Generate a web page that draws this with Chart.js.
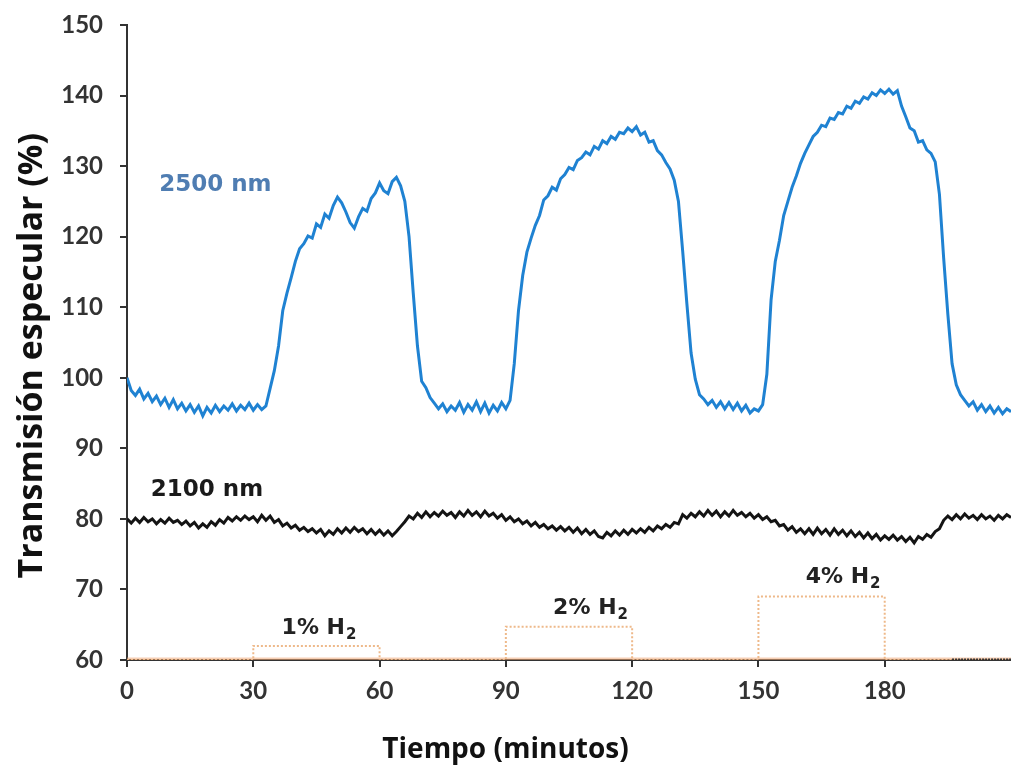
<!DOCTYPE html>
<html>
<head>
<meta charset="utf-8">
<script src="https://cdn.jsdelivr.net/npm/chart.js@4/dist/chart.umd.min.js"></script>
<style>
  html, body { margin: 0; padding: 0; background: #fff; }
</style>
</head>
<body>
<canvas id="chart" width="1011" height="779"></canvas>
<script>
// time axis, one reading per minute
var minutes = [];
for (var m = 0; m <= 210; m++) minutes.push(m);

// 2500 nm trace
var trans2500 = [
  100.0, 98.2, 97.5, 98.4, 97.0, 97.8, 96.6, 97.4, 96.2, 97.1,
  95.8, 96.9, 95.6, 96.4, 95.3, 96.2, 95.1, 96.0, 94.6, 95.8,
  95.0, 96.1, 95.2, 96.0, 95.4, 96.3, 95.3, 96.1, 95.5, 96.4,
  95.4, 96.2, 95.5, 96.0, 98.5, 101.0, 104.5, 109.5, 112.0, 114.2,
  116.5, 118.3, 119.0, 120.1, 119.8, 121.8, 121.3, 123.2, 122.6, 124.4,
  125.6, 124.8, 123.5, 122.0, 121.2, 122.8, 124.0, 123.6, 125.4, 126.2,
  127.6, 126.5, 126.1, 127.8, 128.4, 127.2, 125.0, 120.0, 112.0, 104.5,
  99.5, 98.6, 97.2, 96.4, 95.6, 96.3, 95.2, 96.0, 95.4, 96.5,
  95.1, 96.2, 95.4, 96.6, 95.2, 96.4, 95.0, 96.1, 95.3, 96.5,
  95.6, 96.8, 102.0, 109.5, 114.5, 117.8, 119.8, 121.6, 123.0, 125.2,
  125.8, 127.0, 126.6, 128.2, 128.8, 129.8, 129.5, 130.8, 131.2, 132.0,
  131.6, 132.8, 132.4, 133.6, 133.2, 134.2, 133.8, 134.8, 134.6, 135.4,
  134.9, 135.6, 134.4, 134.8, 133.4, 133.6, 132.2, 131.6, 130.5, 129.6,
  128.0, 125.0, 118.0, 110.5, 103.5, 99.8, 97.6, 97.0, 96.2, 96.8,
  95.8, 96.6, 95.6, 96.5, 95.5, 96.4, 95.3, 96.1, 95.0, 95.6,
  95.3, 96.2, 100.5, 111.0, 116.5, 119.5, 123.0, 125.0, 127.0, 128.6,
  130.4, 131.8, 133.0, 134.2, 134.8, 135.8, 135.6, 136.8, 136.6, 137.6,
  137.4, 138.5, 138.2, 139.2, 138.9, 139.8, 139.5, 140.4, 140.0, 140.8,
  140.3, 140.9, 140.2, 140.7, 138.5, 137.0, 135.4, 135.0, 133.4, 133.6,
  132.3, 131.8, 130.6, 126.0, 117.0, 109.0, 102.0, 99.0, 97.6, 96.8,
  96.0, 96.6, 95.4, 96.2, 95.2, 96.0, 95.0, 95.8, 94.9, 95.6,
  95.2
];

// 2100 nm trace
var trans2100 = [
  80.0, 79.4, 80.1, 79.5, 80.2, 79.6, 80.0, 79.3, 79.9, 79.4,
  80.1, 79.5, 79.8, 79.2, 79.7, 79.0, 79.5, 78.7, 79.3, 78.8,
  79.6, 79.1, 79.9, 79.4, 80.2, 79.7, 80.3, 79.8, 80.4, 79.9,
  80.3, 79.6, 80.5, 79.8, 80.4, 79.5, 79.9, 79.0, 79.4, 78.7,
  79.1, 78.4, 78.8, 78.2, 78.6, 78.0, 78.5, 77.6, 78.3, 77.8,
  78.6, 78.0, 78.7, 78.1, 78.8, 78.2, 78.6, 77.9, 78.5, 77.8,
  78.4, 77.7, 78.3, 77.6, 78.2, 78.9, 79.6, 80.4, 80.0, 80.8,
  80.2, 81.0, 80.3, 80.9, 80.4, 81.1, 80.5, 80.9, 80.2, 81.0,
  80.4, 81.2, 80.5, 81.0, 80.3, 81.1, 80.4, 80.8, 80.1, 80.6,
  79.8, 80.3, 79.6, 80.0, 79.3, 79.7, 79.0, 79.5, 78.8, 79.2,
  78.6, 79.0, 78.4, 78.9, 78.3, 78.8, 78.1, 78.7, 77.9, 78.5,
  77.8, 78.3, 77.5, 77.3, 78.1, 77.6, 78.3, 77.7, 78.4, 77.8,
  78.5, 78.0, 78.6, 78.1, 78.8, 78.3, 79.0, 78.6, 79.2, 78.8,
  79.5, 79.3, 80.6, 80.1, 80.8, 80.3, 81.0, 80.4, 81.2, 80.5,
  81.1, 80.3, 81.0, 80.4, 81.2, 80.5, 80.9, 80.3, 80.8, 80.1,
  80.6, 79.9, 80.3, 79.6, 79.8, 79.0, 79.2, 78.4, 78.9, 78.1,
  78.6, 77.9, 78.6, 77.8, 78.7, 77.9, 78.5, 77.7, 78.6, 77.8,
  78.4, 77.6, 78.3, 77.5, 78.1, 77.3, 78.0, 77.2, 77.8, 77.0,
  77.6, 77.1, 77.7, 77.0, 77.5, 76.8, 77.4, 76.6, 77.5, 77.1,
  77.8, 77.4, 78.2, 78.6, 79.8, 80.4, 79.9, 80.6, 80.0, 80.7,
  80.1, 80.5, 79.9, 80.6, 80.0, 80.4, 79.8, 80.5, 80.0, 80.6,
  80.2
];

// H2 pulses (time, level)
var pulseTime  = [0, 30, 30, 60, 60, 90, 90, 120, 120, 150, 150, 180, 180, 210];
var pulseLevel = [60, 60, 62, 62, 60, 60, 64.7, 64.7, 60, 60, 69, 69, 60, 60];
var pulseNames = ['1% H\u2082', '2% H\u2082', '4% H\u2082'];
var pulseLabelTime  = [45.5, 110, 170];
var pulseLabelLevel = [64.5, 67.4, 71.7];

// short dark dotted piece at the end of the baseline
var tailTime  = [196, 210];
var tailLevel = [60, 60];

var xTicks = [0, 30, 60, 90, 120, 150, 180];

function pts(xs, ys) {
  return xs.map(function (x, i) { return { x: x, y: ys[i] }; });
}

// series labels written inside the plot + x title centred on the page
const seriesLabels = {
  id: 'seriesLabels',
  afterDatasetsDraw(chart) {
    const c = chart.ctx, xs = chart.scales.x, ys = chart.scales.y;
    c.save();
    c.textAlign = 'center';
    c.textBaseline = 'middle';
    c.font = 'bold 23px "DejaVu Sans"';
    c.fillStyle = '#4f7db2';
    c.fillText('2500 nm', xs.getPixelForValue(21), ys.getPixelForValue(127.3));
    c.fillStyle = '#1a1a1a';
    c.fillText('2100 nm', xs.getPixelForValue(19), ys.getPixelForValue(84.1));
    pulseNames.forEach(function (name, i) {
      var x = xs.getPixelForValue(pulseLabelTime[i]);
      var y = ys.getPixelForValue(pulseLabelLevel[i]);
      var base = name.slice(0, -1);
      c.font = 'bold 22px "DejaVu Sans"';
      var w = c.measureText(base).width;
      c.font = 'bold 15px "DejaVu Sans"';
      var ws = c.measureText('2').width;
      var x0 = x - (w + ws) / 2;
      c.textAlign = 'left';
      c.font = 'bold 22px "DejaVu Sans"';
      c.fillStyle = '#222';
      c.fillText(base, x0, y);
      c.font = 'bold 15px "DejaVu Sans"';
      c.fillText('2', x0 + w + 1, y + 7);
    });
    // x axis title
    c.textAlign = 'center';
    c.font = 'bold 28px "Open Sans"';
    c.fillStyle = '#111';
    c.fillText('Tiempo (minutos)', chart.width / 2, 750);
    c.restore();
  }
};

const ctx = document.getElementById('chart').getContext('2d');
const chart = new Chart(ctx, {
  type: 'line',
  data: {
    datasets: [
      {
        label: '2500 nm',
        data: pts(minutes, trans2500),
        borderColor: '#1f82d2',
        borderWidth: 3,
        pointRadius: 0,
        tension: 0,
        order: 1
      },
      {
        label: '2100 nm',
        data: pts(minutes, trans2100),
        borderColor: '#141414',
        borderWidth: 3,
        pointRadius: 0,
        tension: 0,
        order: 2
      },
      {
        label: 'H2',
        data: pts(pulseTime, pulseLevel),
        borderColor: '#eeb98a',
        borderWidth: 2,
        borderDash: [2, 2],
        pointRadius: 0,
        order: 3
      },
      {
        label: 'base',
        data: pts([0, 210], [60, 60]),
        borderColor: 'rgba(240,170,120,0.55)',
        borderWidth: 5,
        pointRadius: 0,
        order: 4
      },
      {
        label: 'tail',
        data: pts(tailTime, tailLevel),
        borderColor: '#333',
        borderWidth: 3,
        borderDash: [2, 1],
        pointRadius: 0,
        order: 0
      }
    ]
  },
  options: {
    responsive: false,
    animation: false,
    devicePixelRatio: 1,
    layout: { padding: { top: 25, right: 0, left: 0, bottom: 0 } },
    plugins: {
      legend: { display: false },
      tooltip: { enabled: false }
    },
    scales: {
      x: {
        type: 'linear',
        min: 0,
        max: 210,
        afterBuildTicks: function (scale) {
          scale.ticks = xTicks.map(function (v) { return { value: v }; });
        },
        afterFit: function (scale) { scale.height = 119; },
        grid: { drawOnChartArea: false, drawTicks: true, tickLength: 7, color: '#333', lineWidth: 2 },
        border: { display: true, color: '#333', width: 2 },
        ticks: {
          padding: 10,
          maxRotation: 0,
          color: '#333',
          font: { family: 'Lato', size: 24, weight: 'bold' }
        }
      },
      y: {
        min: 60,
        max: 150,
        afterFit: function (scale) { scale.width = 127; },
        grid: { drawOnChartArea: false, drawTicks: true, tickLength: 7, color: '#333', lineWidth: 2 },
        border: { display: true, color: '#333', width: 2 },
        ticks: {
          stepSize: 10,
          padding: 17,
          color: '#333',
          font: { family: 'Lato', size: 24, weight: 'bold', lineHeight: 0.5 }
        },
        title: {
          display: true,
          text: 'Transmisión especular (%)   ',
          color: '#111',
          padding: { top: 12, bottom: 0 },
          font: { family: 'Open Sans', size: 34, weight: 'bold' }
        }
      }
    }
  },
  plugins: [seriesLabels]
});
</script>
</body>
</html>
